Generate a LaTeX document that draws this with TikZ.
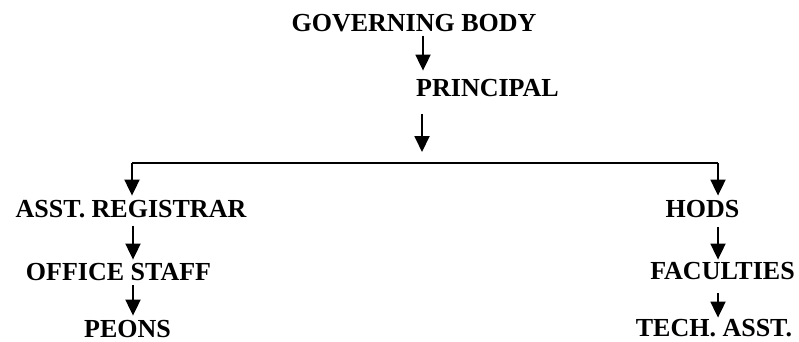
\documentclass[tikz,border=0pt]{standalone}
\usepackage{fontspec}
\setmainfont{Liberation Serif}
\usetikzlibrary{arrows.meta}
\begin{document}
\begin{tikzpicture}[x=1pt,y=-1pt,
  lbl/.style={inner sep=0pt,anchor=base,font=\fontsize{26}{30}\selectfont\bfseries},
  arr/.style={line width=1.9pt,-{Triangle[width=15pt,length=16pt]}},
  bus/.style={line width=1.6pt}]
\useasboundingbox (0,0) rectangle (799,341);
\node[lbl] (gb) at (414,31) {GOVERNING BODY};
\node[lbl] (pr) at (487.5,96) {PRINCIPAL};
\node[lbl] (ar) at (131,217) {ASST. REGISTRAR};
\node[lbl] (os) at (118.5,280) {OFFICE STAFF};
\node[lbl] (pe) at (127.5,337) {PEONS};
\node[lbl] (hd) at (702.5,217) {HODS};
\node[lbl] (fa) at (722.5,279) {FACULTIES};
\node[lbl] (ta) at (714,336) {TECH. ASST.};
\coordinate (cc) at (422,163);
\coordinate (cl) at (132,163);
\coordinate (cr) at (718,163);
% governing body -> principal
\draw[arr] ([yshift=-4pt]gb.south -| 423,0) -- ([yshift=8pt]pr.north -| 423,0);
% principal -> bus
\draw[arr] ([yshift=-18pt]pr.south -| cc) -- ([yshift=11pt]cc);
\draw[bus] (cl) -- (cr);
\draw[arr] (cl) -- ([yshift=4pt]ar.north -| cl);
\draw[arr] (cr) -- ([yshift=4pt]hd.north -| cr);
% left column
\draw[arr] ([yshift=-8pt]ar.south -| 133,0) -- ([yshift=3pt]os.north -| 133,0);
\draw[arr] ([yshift=-5pt]os.south -| 133,0) -- ([yshift=4pt]pe.north -| 133,0);
% right column
\draw[arr] ([yshift=-10pt]hd.south -| cr) -- ([yshift=2pt]fa.north -| cr);
\draw[arr] ([yshift=-14pt]fa.south -| cr) -- ([yshift=1pt]ta.north -| cr);
\end{tikzpicture}
\end{document}
